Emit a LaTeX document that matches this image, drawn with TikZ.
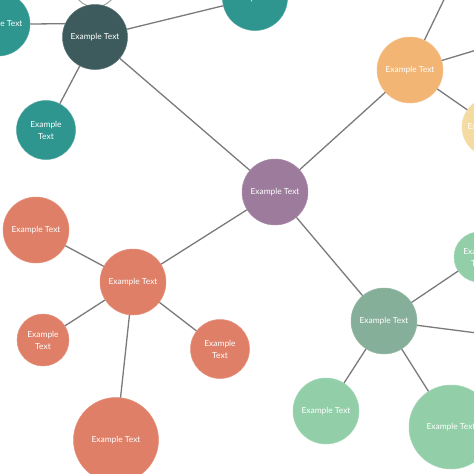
\documentclass[tikz,border=0pt]{standalone}
\usepackage{fontspec}
\setmainfont{Lato}
\definecolor{cteal}{HTML}{2E958F}
\definecolor{cdark}{HTML}{3D5B5C}
\definecolor{cpurple}{HTML}{9C7B9C}
\definecolor{corange}{HTML}{F3B574}
\definecolor{cyellow}{HTML}{F4DBA2}
\definecolor{cgreen}{HTML}{86AF99}
\definecolor{clgreen}{HTML}{92CFA9}
\definecolor{csalmon}{HTML}{E07F67}
\definecolor{cline}{HTML}{7A7A7A}
\begin{document}
\begin{tikzpicture}[x=1pt,y=-1pt,
  bub/.style args={#1/#2}{circle,fill=#1,draw=#1!85!white,line width=0.5pt,
    minimum size=#2*2pt,inner sep=0pt,text=white,font=\fontsize{8.4}{12}\selectfont,align=center},
  link/.style={draw=cline,line width=1.3pt}]
\useasboundingbox (0,0) rectangle (474,474);
\clip (0,0) rectangle (474,474);
% faint outlined circle at top
\node[circle,draw=cline!70,line width=1pt,minimum size=44pt,inner sep=0pt] (ghost) at (95,-15) {};
% nodes
\node[bub=cteal/32] (tl) at (-2,24) {Example Text};
\node[bub=cteal/32.5] (tt) at (255,-2) {Example Text};
\node[bub=cteal/29.5] (tlow) at (46,130) {Example\\Text};
\node[bub=cdark/32.5] (dark) at (95,37) {Example Text};
\node[bub=cpurple/33] (mid) at (275,192) {Example Text};
\node[bub=corange/33] (orange) at (410,70) {Example Text};
\node[bub=cyellow/30] (yellow) at (492,127) {Example Text};
\node[bub=cgreen/33] (green) at (384,321) {Example Text};
\node[bub=clgreen/25] (gtr) at (479,257) {Example\\Text};
\node[bub=clgreen/33] (gbl) at (326,411) {Example Text};
\node[bub=clgreen/42] (gbr) at (451,427) {Example Text};
\node[bub=csalmon/33] (salmon) at (133,282) {Example Text};
\node[bub=csalmon/33] (stl) at (36,230) {Example Text};
\node[bub=csalmon/26] (sl) at (43,340) {Example\\Text};
\node[bub=csalmon/29.5] (sr) at (220,349) {Example\\Text};
\node[bub=csalmon/42.5] (sb) at (116,440) {Example Text};
% free ends
\coordinate (oup) at (453,-19);
\coordinate (oright) at (500,43);
\coordinate (gright) at (500,336);
% connectors
\draw[link] (tl.east) -- (dark.156);
\draw[link] (dark) -- (tt);
\draw[link] (dark) -- (tlow);
\draw[link] (dark) -- (mid);
\draw[link] (mid) -- (orange);
\draw[link] (mid) -- (green);
\draw[link] (mid) -- (salmon);
\draw[link] (orange) -- (oup);
\draw[link] (orange) -- (oright);
\draw[link] (orange) -- (yellow);
\draw[link] (green) -- (gtr);
\draw[link] (green) -- (gright);
\draw[link] (green) -- (gbl);
\draw[link] (green) -- (gbr);
\draw[link] (salmon) -- (stl);
\draw[link] (salmon) -- (sl);
\draw[link] (salmon) -- (sr);
\draw[link] (salmon) -- (sb);
\end{tikzpicture}
\end{document}
